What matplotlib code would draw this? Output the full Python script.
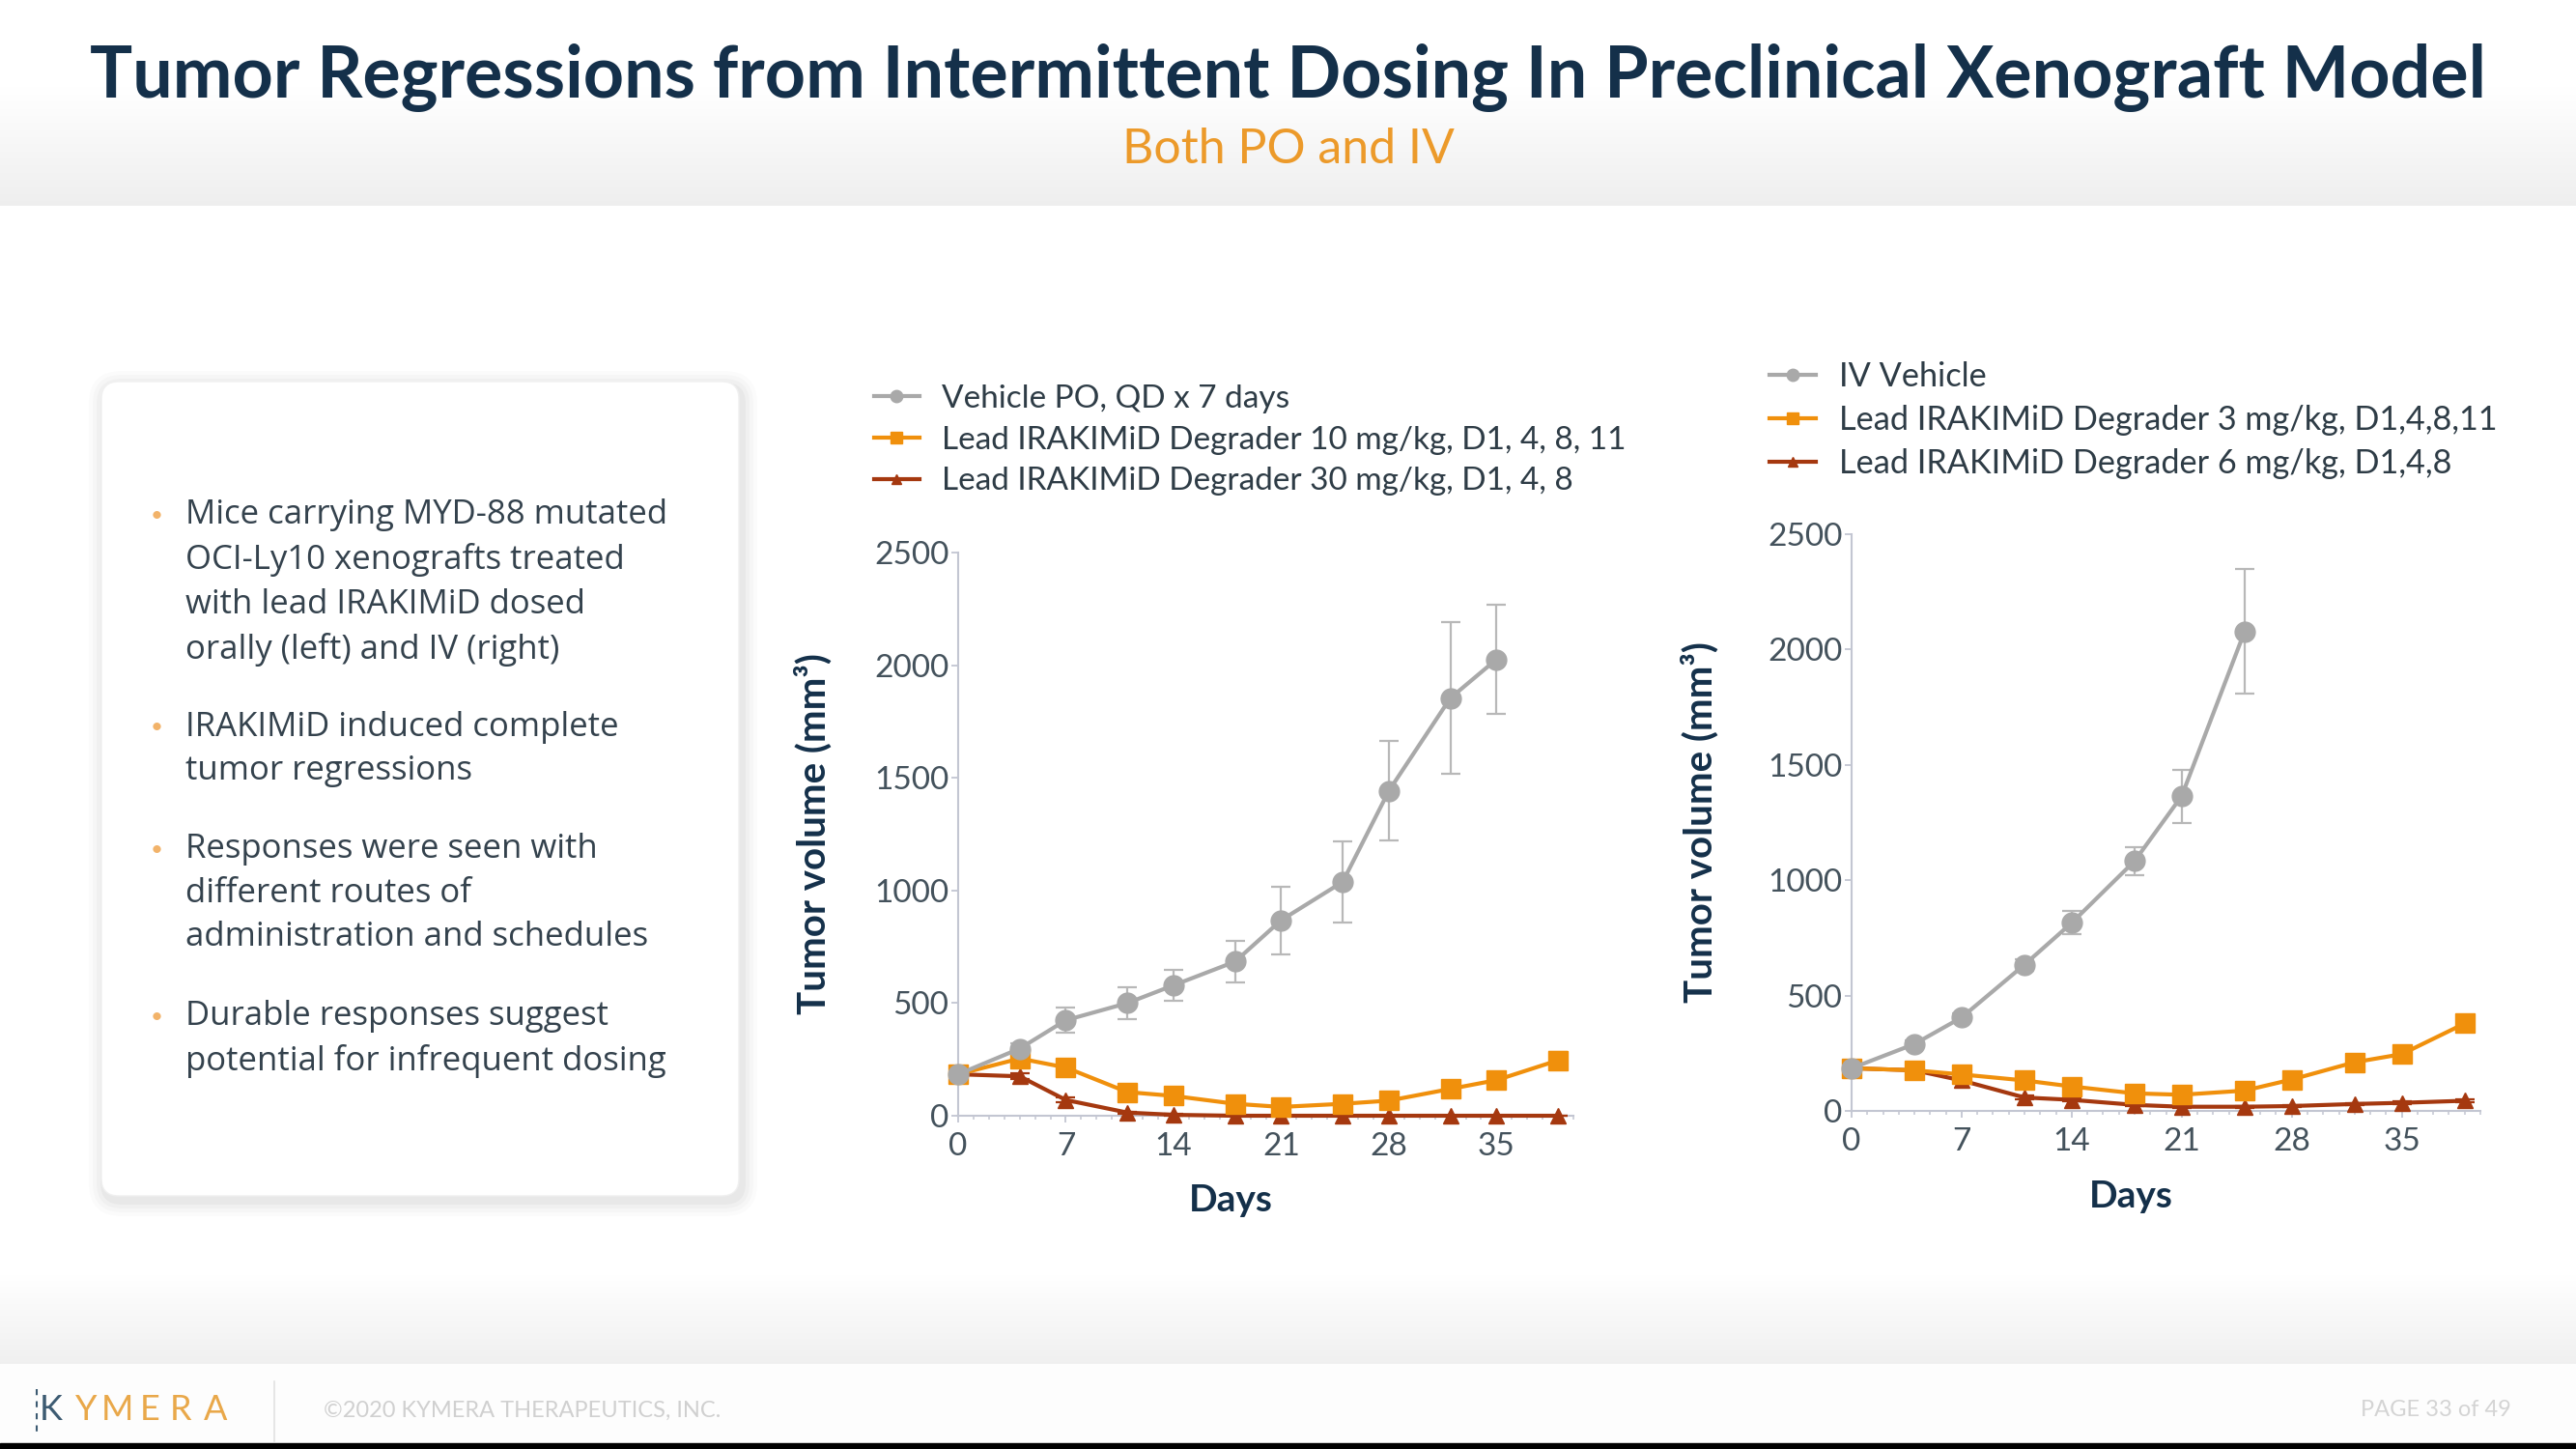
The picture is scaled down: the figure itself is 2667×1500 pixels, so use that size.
import numpy as np
import matplotlib
matplotlib.use("Agg")
import matplotlib.pyplot as plt
from matplotlib.patches import FancyBboxPatch
from matplotlib.ticker import MultipleLocator

W, H = 2667, 1500

# values (tumor volume, mm^3)
days = [0, 4, 7, 11, 14, 18, 21, 25, 28, 32, 35, 39]

po_vehicle = [184, 298, 424, 500, 579, 684, 868, 1038, 1442, 1854, 2026]
po_vehicle_err = [15, 25, 55, 70, 70, 92, 150, 180, 222, 338, 242]
po_10mpk = [184, 254, 214, 105, 88, 53, 39, 53, 67, 119, 158, 246]
po_10mpk_err = [10, 15, 15, 12, 12, 10, 10, 10, 12, 15, 18, 35]
po_30mpk = [184, 175, 70, 14, 4, 0, 0, 0, 0, 0, 0, 0]
po_30mpk_err = [10, 12, 10, 5, 3, 0, 0, 0, 0, 0, 0, 0]

iv_vehicle = [185, 290, 405, 634, 815, 1083, 1365, 2078]
iv_vehicle_err = [10, 15, 20, 25, 50, 60, 115, 270]
iv_3mpk = [185, 176, 158, 132, 106, 76, 70, 88, 136, 211, 246, 379]
iv_3mpk_err = [10, 12, 15, 12, 12, 12, 12, 12, 12, 15, 18, 30]
iv_6mpk = [185, 176, 132, 58, 48, 26, 18, 18, 21, 30, 35, 44]
iv_6mpk_err = [10, 10, 10, 8, 6, 5, 4, 4, 4, 5, 5, 6]

po_labels = ["Vehicle PO, QD x 7 days",
             "Lead IRAKIMiD Degrader 10 mg/kg, D1, 4, 8, 11",
             "Lead IRAKIMiD Degrader 30 mg/kg, D1, 4, 8"]
iv_labels = ["IV Vehicle",
             "Lead IRAKIMiD Degrader 3 mg/kg, D1,4,8,11",
             "Lead IRAKIMiD Degrader 6 mg/kg, D1,4,8"]

x_ticks = [0, 7, 14, 21, 28, 35]
y_ticks = [0, 500, 1000, 1500, 2000, 2500]

bullets = ["Mice carrying MYD-88 mutated\nOCI-Ly10 xenografts treated\nwith lead IRAKIMiD dosed\norally (left) and IV (right)",
           "IRAKIMiD induced complete\ntumor regressions",
           "Responses were seen with\ndifferent routes of\nadministration and schedules",
           "Durable responses suggest\npotential for infrequent dosing"]

GRAY = "#a9a9a9"
ORANGE = "#f0900c"
RED = "#a5380f"
NAVY = "#14304a"
TXT = "#34424d"
SPINE = "#c3c6d2"

plt.rcParams["font.family"] = ["Lato", "DejaVu Sans"]

fig = plt.figure(figsize=(W / 100, H / 100), dpi=100)
fig.patch.set_facecolor("white")

# background layer in pixel coordinates
bg = fig.add_axes([0, 0, 1, 1], zorder=-10)
bg.axis("off")


def vgrad(y0, y1, c0, c1):
    g = np.linspace(c0, c1, 128).reshape(-1, 1)
    img = np.dstack([g, g, g])
    bg.imshow(img, extent=(0, W, y1, y0), aspect="auto", zorder=0,
              interpolation="bilinear")


vgrad(0, 90, 1.0, 1.0)
vgrad(90, 213, 1.0, 0.935)
vgrad(1320, 1412, 1.0, 0.94)
bg.add_patch(plt.Rectangle((0, 1412), W, 82, color="#fdfdfd", zorder=1))
bg.add_patch(plt.Rectangle((0, 1494), W, 6, color="black", zorder=1))
bg.set_xlim(0, W)
bg.set_ylim(H, 0)

# title
bg.text(W / 2, 80, "Tumor Regressions from Intermittent Dosing In Preclinical Xenograft Model",
        ha="center", va="center", fontsize=53, fontweight="bold", color=NAVY, zorder=3)
bg.text(W / 2, 155, "Both PO and IV", ha="center", va="center",
        fontsize=36, color="#ec9a2a", zorder=3)

# bullet card with soft shadow
for i, a in enumerate([0.03, 0.025, 0.02, 0.015]):
    p = 4 + i * 4
    bg.add_patch(FancyBboxPatch((105 - p + 3, 395 - p + 5), 660 + 2 * p, 843 + 2 * p,
                                boxstyle="round,pad=0,rounding_size=%d" % (18 + p),
                                facecolor="black", edgecolor="none", alpha=a, zorder=1))
bg.add_patch(FancyBboxPatch((105, 395), 660, 843, boxstyle="round,pad=0,rounding_size=18",
                            facecolor="white", edgecolor="#f0f0f0", lw=1, zorder=2))

y = 534
for para in bullets:
    n = para.count("\n") + 1
    bg.text(162, y, "•", ha="center", va="center", fontsize=16, color="#f2b36a", zorder=3)
    bg.text(192, y - 18, para, ha="left", va="top", fontsize=25, color=TXT,
            family=["Open Sans", "DejaVu Sans"], linespacing=1.45, zorder=3)
    y += (n - 1) * 46.5 + 80

# footer
logo_x = [53, 89, 121, 155, 187, 223]
for i, (ch, lx) in enumerate(zip("KYMERA", logo_x)):
    bg.text(lx, 1460, ch, ha="center", va="center", fontsize=26,
            color="#3d5b72" if i == 0 else "#e9a84a", zorder=3)
bg.plot([38, 38], [1438, 1484], color="#3d5b72", lw=1.5, ls=(0, (3, 3)), zorder=3)
bg.plot([284, 284], [1430, 1492], color="#e2e2e2", lw=1.2, zorder=3)
bg.text(335, 1460, "©2020 KYMERA THERAPEUTICS, INC.", ha="left", va="center",
        fontsize=17, color="#d0d0d0", zorder=3)
bg.text(2600, 1460, "PAGE 33 of 49", ha="right", va="center",
        fontsize=17, color="#d4d4d4", zorder=3)


def px_rect(x0, x1, ytop, ybot):
    return [x0 / W, 1 - ybot / H, (x1 - x0) / W, (ybot - ytop) / H]


def draw_panel(rect, series, labels, legend_xy, legend_fs, ylab_x, days_xy):
    ax = fig.add_axes(rect)
    styles = [(GRAY, "#b8b8b8", "o", 15, 5),
              (ORANGE, ORANGE, "s", 14.5, 4),
              (RED, RED, "^", 12, 3)]
    handles = []
    for (vals, err), (c, ec, m, ms, z) in zip(series, styles):
        x = days[:len(vals)]
        ax.errorbar(x, vals, yerr=err, fmt="none", ecolor=ec, elinewidth=1.6,
                    capsize=7, capthick=1.6, zorder=z, clip_on=False)
        ln, = ax.plot(x, vals, color=c, marker=m, ms=ms, lw=3, zorder=z,
                      clip_on=False)
        handles.append(ln)
    ax.set_xlim(0, 40)
    ax.set_ylim(0, 2500)
    ax.set_xticks(x_ticks)
    ax.set_yticks(y_ticks)
    ax.xaxis.set_minor_locator(MultipleLocator(1))
    for s in ["top", "right"]:
        ax.spines[s].set_visible(False)
    for s in ["left", "bottom"]:
        ax.spines[s].set_color(SPINE)
        ax.spines[s].set_linewidth(1.5)
    ax.tick_params(which="major", length=5, width=1.3, color=SPINE,
                   labelsize=24, labelcolor="#44525c", pad=2)
    ax.tick_params(axis="x", which="major", pad=7)
    ax.tick_params(which="minor", length=3, width=1.1, color=SPINE)
    ax.patch.set_alpha(0)
    ax.legend(handles, labels, loc="upper left", bbox_to_anchor=legend_xy,
              bbox_transform=fig.transFigure, frameon=False, fontsize=legend_fs,
              handlelength=1.4, handletextpad=0.7, labelspacing=0.38,
              borderpad=0, borderaxespad=0, markerscale=0.6, labelcolor="#2e3c46")
    yc = (1 - rect[1] - rect[3] / 2) * H
    bg.text(ylab_x, yc, "Tumor volume (mm³)", rotation=90, ha="center", va="center",
            fontsize=29, fontweight="bold", color=NAVY, zorder=3)
    bg.text(days_xy[0], days_xy[1], "Days", ha="center", va="center", fontsize=28,
            fontweight="bold", color=NAVY, zorder=3)
    return ax


draw_panel(px_rect(992, 1629, 572, 1155),
           [(po_vehicle, po_vehicle_err), (po_10mpk, po_10mpk_err), (po_30mpk, po_30mpk_err)],
           po_labels, (905 / W, 1 - 398 / H), 24, 842, (1274, 1242))
draw_panel(px_rect(1917, 2568, 553, 1150),
           [(iv_vehicle, iv_vehicle_err), (iv_3mpk, iv_3mpk_err), (iv_6mpk, iv_6mpk_err)],
           iv_labels, (1832 / W, 1 - 374 / H), 24.7, 1760, (2206, 1238))

fig.savefig("out.png", dpi=100)
